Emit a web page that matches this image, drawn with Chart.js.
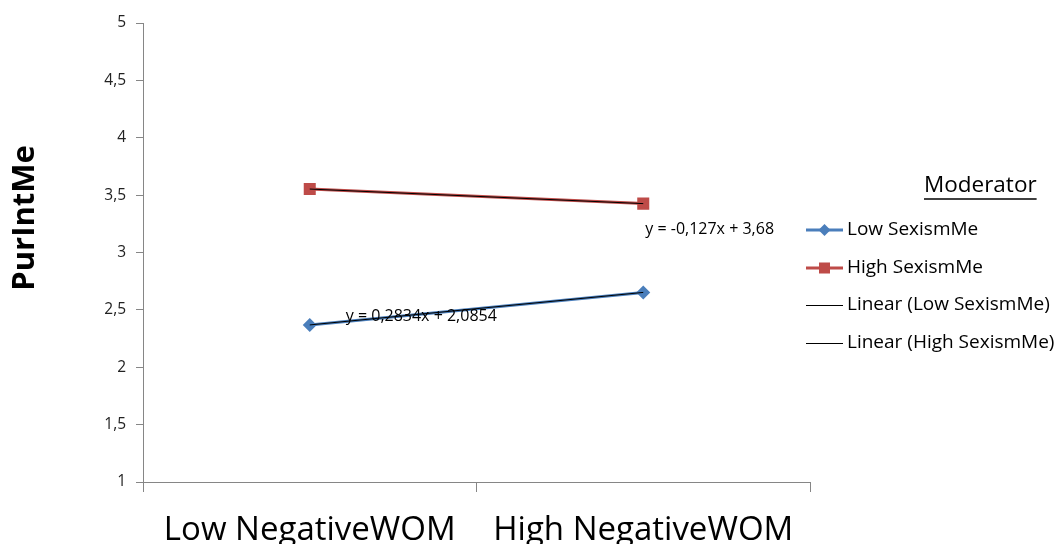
<!DOCTYPE html>
<html>
<head>
<meta charset="utf-8">
<script src="https://cdn.jsdelivr.net/npm/chart.js@4/dist/chart.umd.min.js"></script>
<style>
  html, body { margin: 0; padding: 0; background: #ffffff; }
  #wrap { position: relative; width: 1056px; height: 544px; }
</style>
</head>
<body>
<div id="wrap"><canvas id="c" width="1056" height="544"></canvas></div>
<script>
// Categories on the x axis
const categories = ['Low NegativeWOM', 'High NegativeWOM'];
// Group means of PurIntMe
const lowSexism = [2.3688, 2.6522];
const highSexism = [3.553, 3.426];
// Fitted linear trends through the two means
const lowTrend = [2.3688, 2.6522];
const highTrend = [3.553, 3.426];
// Trend equation texts
const lowEquation = 'y = 0,2834x + 2,0854';
const highEquation = 'y = -0,127x + 3,68';
// Series names
const seriesNames = ['Low SexismMe', 'High SexismMe', 'Linear (Low SexismMe)', 'Linear (High SexismMe)'];
const legendTitle = 'Moderator';
const yTitle = 'PurIntMe';

const FONT = "'Open Sans', 'Liberation Sans', sans-serif";
const BLUE = '#4a7ebb';
const RED = '#be4b48';
const AXIS = '#868686';

// Axis title, right-side legend and trend equation labels
const annotations = {
  id: 'annotations',
  afterDatasetsDraw(chart) {
    const ctx = chart.ctx;
    const x = chart.scales.x, y = chart.scales.y;
    ctx.save();
    ctx.fillStyle = '#000';
    ctx.font = '16px ' + FONT;
    ctx.textBaseline = 'middle';
    ctx.textAlign = 'left';
    ctx.fillText(lowEquation, x.getPixelForValue(0) + 36, y.getPixelForValue(lowTrend[0]) - 8);
    ctx.fillText(highEquation, x.getPixelForValue(1) + 2, y.getPixelForValue(highTrend[1]) + 26);
    ctx.restore();
  },
  afterDraw(chart) {
    const ctx = chart.ctx;
    ctx.save();
    // vertical axis title
    ctx.save();
    ctx.translate(25, 218);
    ctx.rotate(-Math.PI / 2);
    ctx.font = 'bold 31px ' + FONT;
    ctx.fillStyle = '#000';
    ctx.textAlign = 'center';
    ctx.textBaseline = 'middle';
    ctx.fillText(yTitle, 0, 0);
    ctx.restore();

    // legend title
    ctx.font = '22.5px ' + FONT;
    ctx.fillStyle = '#000';
    ctx.textBaseline = 'middle';
    ctx.textAlign = 'left';
    const tx = 924, ty = 186;
    ctx.fillText(legendTitle, tx, ty);
    const tw = ctx.measureText(legendTitle).width;
    ctx.strokeStyle = '#000';
    ctx.lineWidth = 1.5;
    ctx.beginPath(); ctx.moveTo(tx, ty + 13); ctx.lineTo(tx + tw, ty + 13); ctx.stroke();

    const rows = [230, 268, 305, 343];
    const lx0 = 806, lx1 = 843;
    ctx.font = '19px ' + FONT;
    rows.forEach((ry, i) => {
      ctx.beginPath();
      if (i === 0) { ctx.strokeStyle = BLUE; ctx.lineWidth = 3; ctx.moveTo(lx0, ry); ctx.lineTo(lx1, ry); }
      else if (i === 1) { ctx.strokeStyle = RED; ctx.lineWidth = 3; ctx.moveTo(lx0, ry); ctx.lineTo(lx1, ry); }
      else { ctx.strokeStyle = '#000'; ctx.lineWidth = 1; ctx.moveTo(lx0, ry + 0.5); ctx.lineTo(lx1, ry + 0.5); }
      ctx.stroke();
      const cx = (lx0 + lx1) / 2;
      if (i === 0) {
        ctx.fillStyle = BLUE;
        ctx.beginPath();
        ctx.moveTo(cx, ry - 6); ctx.lineTo(cx + 6, ry); ctx.lineTo(cx, ry + 6); ctx.lineTo(cx - 6, ry);
        ctx.closePath(); ctx.fill();
      } else if (i === 1) {
        ctx.fillStyle = RED;
        ctx.fillRect(cx - 5.5, ry - 5.5, 11, 11);
      }
      ctx.fillStyle = '#000';
      ctx.fillText(seriesNames[i], 847, ry);
    });
    ctx.restore();
  }
};

new Chart(document.getElementById('c'), {
  type: 'line',
  data: {
    labels: categories,
    datasets: [
      { label: seriesNames[0], data: lowSexism, borderColor: BLUE, backgroundColor: BLUE, borderWidth: 3, order: 2,
        pointStyle: 'rectRot', pointRadius: 7, pointHoverRadius: 7, pointBorderWidth: 0, tension: 0 },
      { label: seriesNames[1], data: highSexism, borderColor: RED, backgroundColor: RED, borderWidth: 3, order: 2,
        pointStyle: 'rect', pointRadius: 8.5, pointHoverRadius: 8.5, pointBorderWidth: 0, tension: 0 },
      { label: seriesNames[2], data: lowTrend, borderColor: '#000', borderWidth: 1, pointRadius: 0, tension: 0, order: 1 },
      { label: seriesNames[3], data: highTrend, borderColor: '#000', borderWidth: 1, pointRadius: 0, tension: 0, order: 1 }
    ]
  },
  options: {
    responsive: false,
    animation: false,
    events: [],
    layout: { padding: { left: 0, right: 246, top: 23, bottom: 0 } },
    plugins: { legend: { display: false }, tooltip: { enabled: false } },
    scales: {
      x: {
        offset: true,
        grid: { offset: true, drawOnChartArea: false, drawTicks: true, tickLength: 10, color: AXIS, lineWidth: 1 },
        border: { color: AXIS, width: 1 },
        ticks: { color: '#000', font: { family: FONT, size: 33 }, padding: 19 },
        afterFit(s) { s.height = 62; }
      },
      y: {
        min: 1, max: 5,
        grid: { drawOnChartArea: false, drawTicks: true, tickLength: 7, color: AXIS, lineWidth: 1 },
        border: { color: AXIS, width: 1 },
        ticks: { stepSize: 0.5, color: '#222', font: { family: FONT, size: 15.5 }, padding: 10,
          callback: v => String(v).replace('.', ',') },
        afterFit(s) { s.width = 143; }
      }
    }
  },
  plugins: [annotations]
});
</script>
</body>
</html>
